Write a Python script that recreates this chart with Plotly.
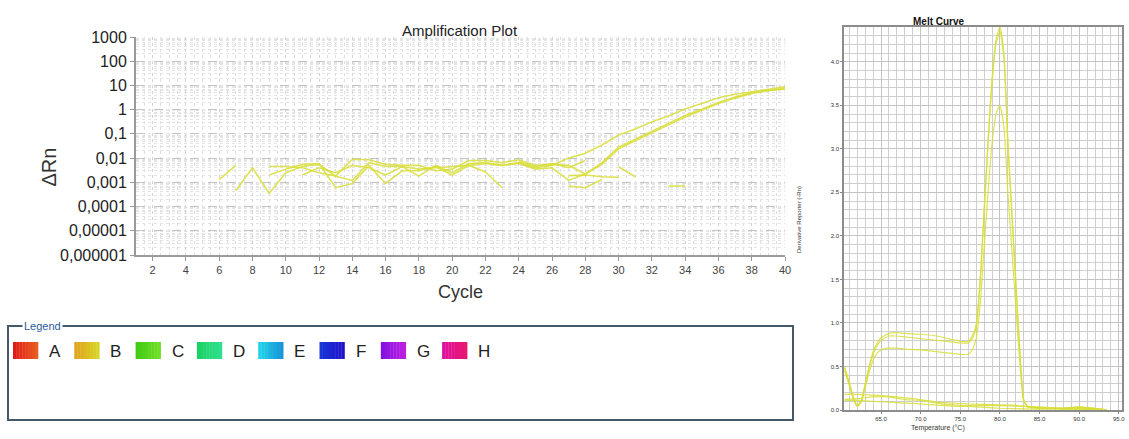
import plotly.graph_objects as go

# ---------------- Amplification plot data (Cycle vs ΔRn) ----------------
w1_x = [6, 7]
w1_y = [0.0013, 0.005]

w2_x = list(range(7, 41))
w2_y = [0.00045, 0.004, 0.00035, 0.0025, 0.0045, 0.0055, 0.0018, 0.0012, 0.0065, 0.0045,
        0.0045, 0.0018, 0.005, 0.0025, 0.006, 0.0065, 0.005, 0.0065, 0.004, 0.005,
        0.01, 0.016, 0.035, 0.09, 0.16, 0.32, 0.55, 1.07, 1.8, 3.1, 4.3, 5.5, 7.0, 8.7]

w3_x = list(range(9, 41))
w3_y = [0.0045, 0.0045, 0.004, 0.0025, 0.0018, 0.009, 0.0085, 0.0055, 0.005, 0.005,
        0.003, 0.0035, 0.008, 0.008, 0.0065, 0.0085, 0.005, 0.0055, 0.005, 0.0022,
        0.0065, 0.028, 0.06, 0.13, 0.27, 0.58, 1.05, 2.0, 3.3, 5.0, 6.3, 7.5]

w4_x = list(range(9, 41))
w4_y = [0.002, 0.0035, 0.0055, 0.006, 0.0006, 0.0009, 0.005, 0.0009, 0.003, 0.003,
        0.0045, 0.002, 0.005, 0.006, 0.005, 0.006, 0.0035, 0.004, 0.0012, 0.0022,
        0.0055, 0.024, 0.052, 0.115, 0.24, 0.5, 0.95, 1.8, 3.0, 4.7, 6.0, 7.1]

w5_x = list(range(11, 24))
w5_y = [0.002, 0.004, 0.0025, 0.005, 0.004, 0.002, 0.0045, 0.0035, 0.004, 0.0045,
        0.005, 0.0027, 0.0006]

w6_x = [24, 25, 26, 27, 28]
w6_y = [0.007, 0.0045, 0.006, 0.004, 0.008]

w7_x = [27, 28, 29, 30]
w7_y = [0.0019, 0.002, 0.0017, 0.0016]

w8_x = [27, 28, 29]
w8_y = [0.0007, 0.0006, 0.0013]

w9_x = [30, 31]
w9_y = [0.0044, 0.0017]

w10_x = [33, 34]
w10_y = [0.0007, 0.0007]

amp_y_ticks = [1e-6, 1e-5, 1e-4, 1e-3, 1e-2, 1e-1, 1, 10, 100, 1000]
amp_y_labels = ["0,000001", "0,00001", "0,0001", "0,001", "0,01", "0,1", "1", "10", "100", "1000"]

# ---------------- Melt curve data (Temperature vs derivative) ----------------
peak_t = [60.4, 61, 61.5, 62, 62.5, 63, 63.5, 64, 64.5, 65, 66, 67, 68, 70, 72, 74, 75, 76,
          76.5, 77, 77.5, 78, 78.5, 79, 79.5, 80, 80.5, 81, 81.5, 82, 82.5, 83, 83.5, 84,
          86, 88, 90, 92, 93.5]
peak1_v = [0.5, 0.32, 0.15, 0.05, 0.1, 0.3, 0.5, 0.67, 0.77, 0.83, 0.88, 0.89, 0.88, 0.87,
           0.85, 0.81, 0.79, 0.79, 0.85, 0.98, 1.5, 2.3, 3.1, 3.8, 4.25, 4.4, 4.1, 3.1, 2.3,
           1.5, 0.7, 0.12, 0.04, 0.03, 0.02, 0.02, 0.03, 0.015, 0.0]
peak2_v = [0.48, 0.3, 0.14, 0.05, 0.1, 0.29, 0.48, 0.64, 0.74, 0.8, 0.85, 0.85, 0.84, 0.82,
           0.8, 0.78, 0.77, 0.77, 0.82, 0.95, 1.45, 2.25, 3.05, 3.75, 4.2, 4.35, 4.05, 3.05,
           2.25, 1.45, 0.68, 0.11, 0.04, 0.03, 0.02, 0.02, 0.025, 0.015, 0.0]
peak3_v = [0.45, 0.28, 0.13, 0.04, 0.09, 0.26, 0.43, 0.57, 0.65, 0.69, 0.71, 0.71, 0.7, 0.69,
           0.67, 0.65, 0.64, 0.64, 0.69, 0.82, 1.2, 1.85, 2.5, 3.05, 3.4, 3.5, 3.25, 2.5,
           1.85, 1.2, 0.55, 0.1, 0.04, 0.03, 0.02, 0.02, 0.02, 0.01, 0.0]

low_t = [60.4, 62, 64, 66, 68, 70, 72, 74, 76, 78, 80, 82, 84, 86, 88, 90, 92, 93.5]
low1_v = [0.18, 0.18, 0.17, 0.16, 0.14, 0.12, 0.09, 0.08, 0.07, 0.065, 0.06, 0.055, 0.03,
          0.02, 0.015, 0.01, 0.005, 0.0]
low2_v = [0.12, 0.13, 0.15, 0.15, 0.12, 0.11, 0.08, 0.06, 0.05, 0.05, 0.05, 0.045, 0.04,
          0.03, 0.02, 0.04, 0.02, 0.0]
low3_v = [0.11, 0.11, 0.1, 0.09, 0.08, 0.07, 0.055, 0.045, 0.04, 0.03, 0.02, 0.015, 0.01,
          0.01, 0.008, 0.005, 0.003, 0.0]

melt_x_ticks = [65, 70, 75, 80, 85, 90, 95]
melt_x_labels = ["65.0", "70.0", "75.0", "80.0", "85.0", "90.0", "95.0"]
melt_y_ticks = [0, 0.5, 1.0, 1.5, 2.0, 2.5, 3.0, 3.5, 4.0]
melt_y_labels = ["0.0", "0.5", "1.0", "1.5", "2.0", "2.5", "3.0", "3.5", "4.0"]

# ---------------- Legend data ----------------
legend_names = ["A", "B", "C", "D", "E", "F", "G", "H"]
legend_left_colors = ["#e01818", "#e0a020", "#40c818", "#18d060", "#20d8e8", "#1838d8", "#8010e0", "#e010a0"]
legend_right_colors = ["#e86020", "#d8d828", "#70e020", "#30e090", "#1890d8", "#2010c8", "#c020e0", "#e81870"]

W, H = 1129, 439
LINE = "rgba(216,222,55,0.85)"
FONT = "Liberation Sans, Arial, sans-serif"

fig = go.Figure()

amp = [(w1_x, w1_y), (w2_x, w2_y), (w3_x, w3_y), (w4_x, w4_y), (w5_x, w5_y),
       (w6_x, w6_y), (w7_x, w7_y), (w8_x, w8_y), (w9_x, w9_y), (w10_x, w10_y)]
for xs, ys in amp:
    fig.add_trace(go.Scatter(x=xs, y=ys, mode="lines", line=dict(color=LINE, width=1.6),
                             xaxis="x", yaxis="y", showlegend=False, hoverinfo="skip"))

for ys in [peak1_v, peak2_v, peak3_v]:
    fig.add_trace(go.Scatter(x=peak_t, y=ys, mode="lines",
                             line=dict(color=LINE, width=1.2, shape="spline", smoothing=0.5),
                             xaxis="x2", yaxis="y2", showlegend=False, hoverinfo="skip"))
for ys in [low1_v, low2_v, low3_v]:
    fig.add_trace(go.Scatter(x=low_t, y=ys, mode="lines",
                             line=dict(color=LINE, width=1.2, shape="spline", smoothing=0.5),
                             xaxis="x2", yaxis="y2", showlegend=False, hoverinfo="skip"))

px = lambda v: v / W
py = lambda v: 1 - v / H

fig.update_layout(
    template="none",
    width=W, height=H, autosize=False,
    margin=dict(l=0, r=0, t=0, b=0, pad=0),
    paper_bgcolor="white", plot_bgcolor="white",
    font=dict(family=FONT, color="#222"),
    xaxis=dict(domain=[px(136), px(785)], range=[1, 40], tickmode="array", automargin=False,
               tickvals=list(range(2, 41, 2)), ticks="outside", ticklen=4, tickcolor="#999",
               tickfont=dict(size=11, color="#444"), showline=True, linecolor="#9a9a9a",
               linewidth=2, showgrid=True, gridcolor="#d4d4d4", griddash="dot", gridwidth=1,
               minor=dict(dtick=0.5, showgrid=True, gridcolor="#dedede", griddash="dot"),
               zeroline=False, fixedrange=True),
    yaxis=dict(domain=[py(255), py(37)], type="log", range=[-6, 3], tickmode="array",
               automargin=False,
               tickvals=amp_y_ticks, ticktext=amp_y_labels, ticks="outside", ticklen=4,
               tickcolor="#999", tickfont=dict(size=16, color="#222"), showline=True,
               linecolor="#9a9a9a", linewidth=2, showgrid=True, gridcolor="#c4c4c4",
               griddash="dash", minor=dict(dtick="D1", showgrid=True, gridcolor="#e4e4e4",
                                           griddash="dot"),
               zeroline=False, fixedrange=True),
    xaxis2=dict(domain=[px(844), px(1122)], range=[60.33, 95.4], anchor="y2",
                automargin=False,
                tickmode="array", tickvals=melt_x_ticks, ticktext=melt_x_labels,
                tickfont=dict(size=6, color="#333"), ticks="outside", ticklen=2,
                tickcolor="#888", showline=True, linecolor="#8c8c8c", linewidth=1.5,
                mirror=True, showgrid=True, gridcolor="#c4c4c4",
                minor=dict(dtick=1, tick0=60, showgrid=True, gridcolor="#cfcfcf"),
                zeroline=False, fixedrange=True),
    yaxis2=dict(domain=[py(410), py(27)], range=[0, 4.40], anchor="x2", tickmode="array",
                automargin=False,
                tickvals=melt_y_ticks, ticktext=melt_y_labels,
                tickfont=dict(size=6, color="#333"), ticks="outside", ticklen=2,
                tickcolor="#888", showline=True, linecolor="#8c8c8c", linewidth=1.5,
                mirror=True, showgrid=True, gridcolor="#c4c4c4",
                minor=dict(dtick=0.1, tick0=0, showgrid=True, gridcolor="#cfcfcf"),
                zeroline=False, fixedrange=True),
)

ann = []
ann.append(dict(text="Amplification Plot", x=px(460), y=py(20), xref="paper", yref="paper",
                showarrow=False, font=dict(size=15, color="#222")))
ann.append(dict(text="ΔRn", x=px(35), y=py(146), xref="paper", yref="paper", textangle=-90,
                showarrow=False, font=dict(size=20, color="#333")))
ann.append(dict(text="Cycle", x=px(460), y=py(292), xref="paper", yref="paper",
                showarrow=False, font=dict(size=18, color="#333")))
ann.append(dict(text="<b>Melt Curve</b>", x=px(967), y=py(14), xref="paper", yref="paper",
                showarrow=False, font=dict(size=10, color="#111")))
ann.append(dict(text="Derivative Reporter (-Rn)", x=px(804), y=py(220), xref="paper",
                yref="paper", textangle=-90, showarrow=False, font=dict(size=6, color="#333")))
ann.append(dict(text="Temperature (°C)", x=px(967), y=py(434), xref="paper", yref="paper",
                showarrow=False, font=dict(size=7, color="#333")))

shapes = []
# legend frame
shapes.append(dict(type="rect", xref="paper", yref="paper", x0=px(8), x1=px(793),
                   y0=py(420), y1=py(326), line=dict(color="#46596a", width=2),
                   fillcolor="rgba(0,0,0,0)"))
ann.append(dict(text="Legend", x=px(22), y=py(326), xref="paper", yref="paper",
                xanchor="left", yanchor="middle", showarrow=False, bgcolor="white",
                borderpad=1, font=dict(size=11, color="#2a5a9a")))


def hex2rgb(h):
    h = h.lstrip("#")
    return tuple(int(h[i:i + 2], 16) for i in (0, 2, 4))


n_strips = 8
for i, name in enumerate(legend_names):
    left = 13 + i * 61.3
    sw = 25
    c1 = hex2rgb(legend_left_colors[i])
    c2 = hex2rgb(legend_right_colors[i])
    for k in range(n_strips):
        f = (k + 0.5) / n_strips
        c = tuple(round(c1[j] + (c2[j] - c1[j]) * f) for j in range(3))
        shapes.append(dict(type="rect", xref="paper", yref="paper",
                           x0=px(left + sw * k / n_strips), x1=px(left + sw * (k + 1) / n_strips + 0.3),
                           y0=py(359), y1=py(342), line=dict(width=0),
                           fillcolor="rgb(%d,%d,%d)" % c))
    ann.append(dict(text=name, x=px(left + sw + 9), y=py(351), xref="paper", yref="paper",
                    xanchor="left", yanchor="middle", showarrow=False,
                    font=dict(size=17, color="#222")))

fig.update_layout(annotations=ann, shapes=shapes)
fig.write_html("out.html", config={"displayModeBar": False},
               post_script="document.body.style.margin='0';document.body.style.overflow='hidden';")
